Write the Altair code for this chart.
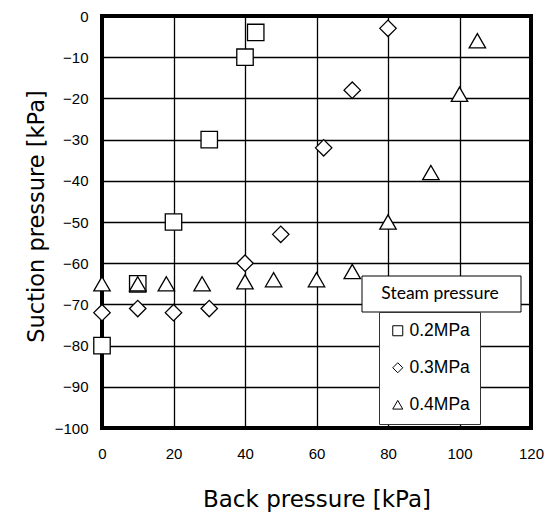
import altair as alt
import pandas as pd

# ---- data ----
series_names = ["0.2MPa", "0.3MPa", "0.4MPa"]
back_02 = [0, 10, 20, 30, 40, 43]
suction_02 = [-80, -65, -50, -30, -10, -4]
back_03 = [0, 10, 20, 30, 40, 50, 62, 70, 80]
suction_03 = [-72, -71, -72, -71, -60, -53, -32, -18, -3]
back_04 = [0, 10, 18, 28, 40, 48, 60, 70, 80, 92, 100, 105]
suction_04 = [-65, -65, -65, -65, -64.5, -64, -64, -62, -50, -38, -19, -6]
x_ticks = [0, 20, 40, 60, 80, 100, 120]
y_ticks = [-100, -90, -80, -70, -60, -50, -40, -30, -20, -10, 0]
legend_title = "Steam pressure"
x_title = "Back pressure [kPa]"
y_title = "Suction pressure [kPa]"

rows = []
for name, xs, ys in zip(series_names, [back_02, back_03, back_04], [suction_02, suction_03, suction_04]):
    for xv, yv in zip(xs, ys):
        rows.append({"series": name, "back": xv, "suction": yv})
df = pd.DataFrame(rows)

legend = alt.Legend(
    orient="none", legendX=277, legendY=296,
    fillColor="white", strokeColor="#333", padding=10, rowPadding=18,
    symbolSize=100, symbolStrokeWidth=1,
    labelFont="Liberation Sans", labelFontSize=17.5, labelOffset=3,
    labelColor="black",
)

points = alt.Chart(df).mark_point(
    filled=False, fill="white", fillOpacity=1, strokeWidth=1.3, size=270, opacity=1
).encode(
    x=alt.X(
        "back:Q",
        scale=alt.Scale(domain=[0, 120], nice=False),
        axis=alt.Axis(
            values=x_ticks, title=x_title, ticks=False, tickSize=0, domain=False,
            labelPadding=18, labelFlush=False, labelOverlap=False,
            grid=True, gridColor="black", gridWidth=1.3, gridOpacity=1,
            labelFont="Liberation Sans", labelFontSize=15, labelColor="black",
            titleFont="DejaVu Sans", titleFontSize=23, titleFontWeight="normal",
            titleColor="black", titleBaseline="alphabetic", titleY=78,
        ),
    ),
    y=alt.Y(
        "suction:Q",
        scale=alt.Scale(domain=[-100, 0], nice=False),
        axis=alt.Axis(
            values=y_ticks, title=y_title, ticks=False, tickSize=0, domain=False,
            labelPadding=14, labelFlush=False, labelOverlap=False,
            grid=True, gridColor="black", gridWidth=1.3, gridOpacity=1,
            labelFont="Liberation Sans", labelFontSize=15, labelColor="black",
            titleFont="DejaVu Sans", titleFontSize=22.5, titleFontWeight="normal",
            titleColor="black", titleBaseline="alphabetic", titleAngle=270,
            titleAlign="center", titleX=-59, titleY=200,
        ),
    ),
    shape=alt.Shape(
        "series:N",
        title=None,
        scale=alt.Scale(domain=series_names, range=["square", "diamond", "triangle-up"]),
        legend=legend,
    ),
    color=alt.Color(
        "series:N",
        title=None,
        scale=alt.Scale(domain=series_names, range=["black", "black", "black"]),
        legend=legend,
    ),
)

box_df = pd.DataFrame({"label": [legend_title]})
title_box = alt.Chart(box_df).mark_rect(
    fill="white", stroke="black", strokeWidth=1
).encode(
    x=alt.value(260), x2=alt.value(419), y=alt.value(260), y2=alt.value(296)
)
title_text = alt.Chart(box_df).mark_text(
    font="Lato", fontSize=17.5, color="black", align="center", baseline="middle"
).encode(
    x=alt.value(338), y=alt.value(278), text="label:N"
)

chart = alt.layer(points, title_box, title_text).properties(
    width=429, height=412,
    autosize=alt.AutoSizeParams(type="none"),
    padding={"left": 102, "top": 16, "right": 23, "bottom": 84},
    background="white",
).configure_view(stroke="black", strokeWidth=4)

chart.save("out.html", embed_options={"renderer": "svg", "actions": False})
